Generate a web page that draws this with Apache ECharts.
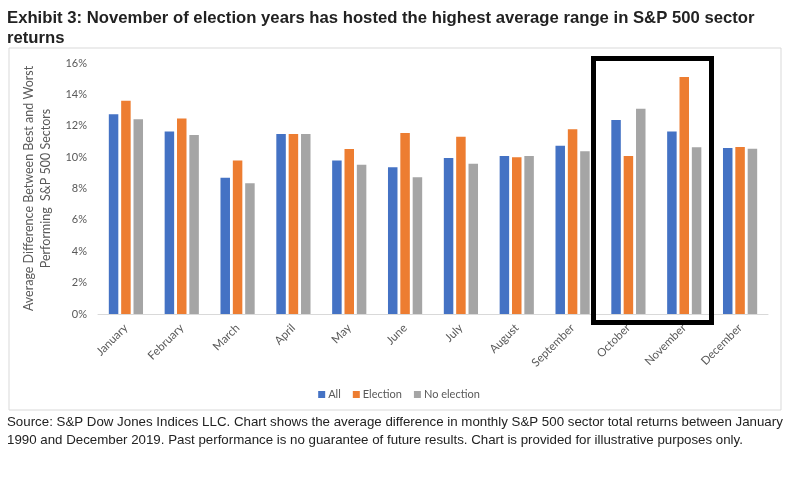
<!DOCTYPE html>
<html>
<head>
<meta charset="utf-8">
<script src="https://cdn.jsdelivr.net/npm/echarts@6/dist/echarts.min.js"></script>
<style>
  html, body { margin: 0; padding: 0; background: #fff; }
  #chart { width: 798px; height: 493px; }
</style>
</head>
<body>
<div id="chart"></div>
<script>
const months = ['January', 'February', 'March', 'April', 'May', 'June', 'July',
  'August', 'September', 'October', 'November', 'December'];
const allYears = [12.74, 11.64, 8.68, 11.47, 9.78, 9.35, 9.95, 10.07, 10.73, 12.36, 11.64, 10.58];
const electionYears = [13.59, 12.47, 9.78, 11.47, 10.52, 11.53, 11.30, 9.99, 11.77, 10.07, 15.11, 10.64];
const noElectionYears = [12.42, 11.41, 8.34, 11.47, 9.52, 8.72, 9.57, 10.07, 10.37, 13.08, 10.63, 10.54];
const yTicks = [0, 2, 4, 6, 8, 10, 12, 14, 16];

const textFont = '"Liberation Sans", Arial, sans-serif';
const labelFont = 'Lato, "Open Sans", sans-serif';

const chart = echarts.init(document.getElementById('chart'));

const mkBar = (name, data, color) => ({
  name,
  type: 'bar',
  data,
  barWidth: 9.5,
  barGap: '30%',
  itemStyle: { color }
});

chart.setOption({
  animation: false,
  title: [
    {
      text: 'Exhibit 3: November of election years has hosted the highest average range in S&P 500 sector\nreturns',
      left: 7,
      top: 8,
      padding: 0,
      textStyle: { fontFamily: textFont, fontWeight: 'bold', fontSize: 16.7, color: '#222', lineHeight: 20 }
    },
    {
      text: 'Source: S&P Dow Jones Indices LLC. Chart shows the average difference in monthly S&P 500 sector total returns between January\n1990 and December 2019. Past performance is no guarantee of future results. Chart is provided for illustrative purposes only.',
      left: 7,
      top: 413,
      padding: 0,
      textStyle: { fontFamily: textFont, fontWeight: 'normal', fontSize: 13.3, color: '#222', lineHeight: 18 }
    }
  ],
  legend: {
    data: ['All', 'Election', 'No election'],
    bottom: 88,
    left: 'center',
    icon: 'rect',
    itemWidth: 7,
    itemHeight: 7,
    itemGap: 12,
    textStyle: { fontFamily: labelFont, fontSize: 11, color: '#595959', padding: [0, 0, 0, -2] }
  },
  grid: { left: 98, right: 30, top: 63, bottom: 179 },
  xAxis: {
    type: 'category',
    data: months,
    axisLine: { lineStyle: { color: '#d9d9d9' } },
    axisTick: { show: false },
    axisLabel: { rotate: 45, fontFamily: labelFont, fontSize: 11.5, color: '#595959', margin: 12 }
  },
  yAxis: {
    type: 'value',
    min: yTicks[0],
    max: yTicks[yTicks.length - 1],
    interval: 2,
    name: 'Average Difference Between Best and Worst\nPerforming  S&P 500 Sectors',
    nameLocation: 'middle',
    nameGap: 40,
    nameTextStyle: { fontFamily: labelFont, fontSize: 12.5, color: '#595959', lineHeight: 17 },
    axisLine: { show: false },
    axisTick: { show: false },
    splitLine: { show: false },
    axisLabel: { formatter: '{value}%', fontFamily: labelFont, fontSize: 11, color: '#595959', margin: 11 }
  },
  series: [
    mkBar('All', allYears, '#4472c4'),
    mkBar('Election', electionYears, '#ed7d31'),
    mkBar('No election', noElectionYears, '#a5a5a5')
  ],
  graphic: [
    {
      type: 'rect',
      shape: { x: 9, y: 48, width: 772, height: 362 },
      style: { fill: 'none', stroke: '#d9d9d9', lineWidth: 1 },
      silent: true
    },
    {
      type: 'rect',
      shape: { x: 593.5, y: 58.5, width: 118, height: 264 },
      style: { fill: 'none', stroke: '#000', lineWidth: 5 },
      silent: true,
      z: 100
    }
  ]
});
</script>
</body>
</html>
